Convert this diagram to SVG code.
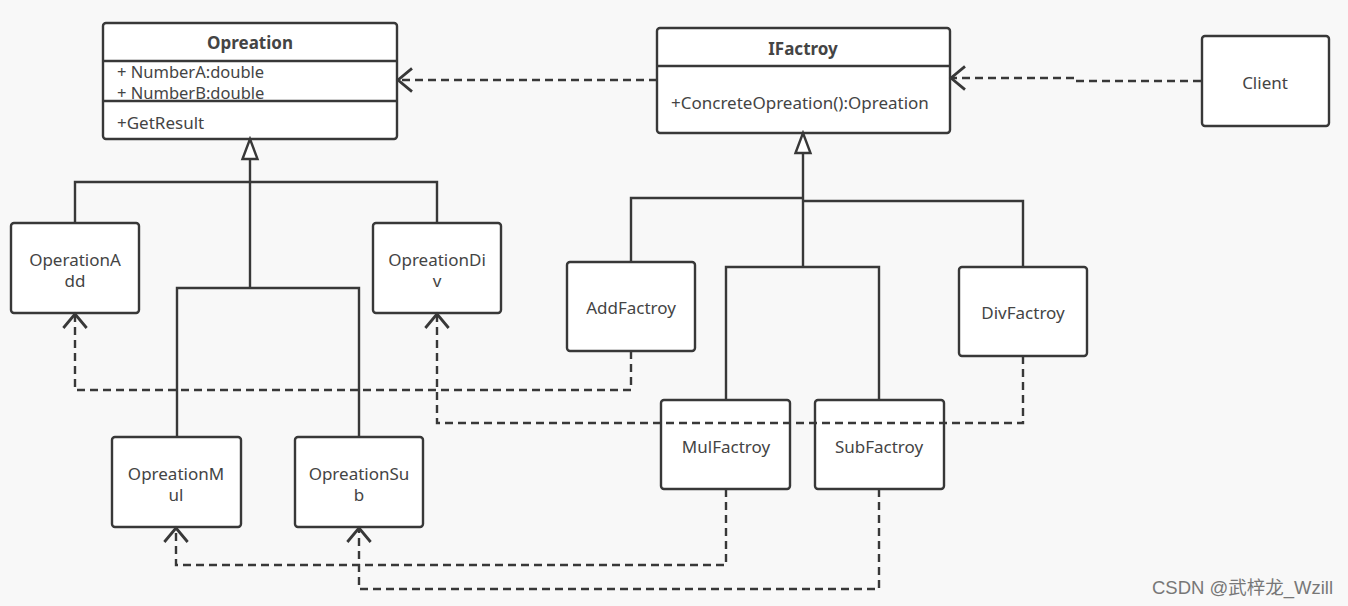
<svg xmlns="http://www.w3.org/2000/svg" width="1348" height="606" viewBox="0 0 1348 606">
<style>
.box{fill:#fff;stroke:#383838;stroke-width:2.4}
.sep{stroke:#383838;stroke-width:2.4;fill:none}
.t{font-family:"Noto Sans","Open Sans",sans-serif;font-size:17px;fill:#444;text-anchor:middle}
.tl{font-family:"Noto Sans","Open Sans",sans-serif;font-size:17px;fill:#444}
.attr{font-size:16.5px}
.b{font-weight:bold}
.solid{fill:none;stroke:#383838;stroke-width:2.4}
.dash{fill:none;stroke:#383838;stroke-width:2.4;stroke-dasharray:8 5}
.wm{font-family:"Liberation Sans","Noto Sans CJK SC",sans-serif;font-size:18px;fill:#777}
</style>
<defs>
<marker id="open" markerUnits="userSpaceOnUse" markerWidth="20" markerHeight="28" viewBox="-14 -12 16 24" refX="0" refY="0" orient="auto">
<path d="M-12,-10 L0,0 L-12,10" fill="none" stroke="#383838" stroke-width="2.4"/>
</marker>
<marker id="tri" markerUnits="userSpaceOnUse" markerWidth="26" markerHeight="22" viewBox="-23 -10 26 20" refX="0" refY="0" orient="auto">
<path d="M-20,-7.5 L0,0 L-20,7.5 Z" fill="#fff" stroke="#383838" stroke-width="2.4"/>
</marker>
</defs>
<rect width="1348" height="606" fill="#f8f8f8"/>

<g id="Opreation">
<rect class="box" x="103" y="23" width="294" height="116" rx="3"/>
<line class="sep" x1="103" y1="61" x2="397" y2="61"/>
<line class="sep" x1="103" y1="101" x2="397" y2="101"/>
<text class="t b" x="250" y="49">Opreation</text>
<text class="tl attr" x="117" y="78">+ NumberA:double</text>
<text class="tl attr" x="117" y="99">+ NumberB:double</text>
<text class="tl" x="117" y="129">+GetResult</text>
</g>

<g id="IFactroy">
<rect class="box" x="657" y="28" width="293" height="105" rx="3"/>
<line class="sep" x1="657" y1="66" x2="950" y2="66"/>
<text class="t b" x="803" y="55">IFactroy</text>
<text class="tl" x="671" y="109">+ConcreteOpreation():Opreation</text>
</g>

<g id="Client">
<rect class="box" x="1202" y="36" width="127" height="90" rx="3"/>
<text class="t" x="1265" y="89">Client</text>
</g>

<g id="OperationAdd">
<rect class="box" x="11" y="223" width="128" height="90" rx="3"/>
<text class="t" x="75" y="266">OperationA</text>
<text class="t" x="75" y="287">dd</text>
</g>

<g id="OpreationDiv">
<rect class="box" x="373" y="223" width="128" height="90" rx="3"/>
<text class="t" x="437" y="266">OpreationDi</text>
<text class="t" x="437" y="287">v</text>
</g>

<g id="OpreationMul">
<rect class="box" x="112" y="437" width="129" height="90" rx="3"/>
<text class="t" x="176" y="480">OpreationM</text>
<text class="t" x="176" y="501">ul</text>
</g>

<g id="OpreationSub">
<rect class="box" x="295" y="437" width="128" height="90" rx="3"/>
<text class="t" x="359" y="480">OpreationSu</text>
<text class="t" x="359" y="501">b</text>
</g>

<g id="AddFactroy">
<rect class="box" x="567" y="262" width="128" height="89" rx="3"/>
<text class="t" x="631" y="314">AddFactroy</text>
</g>

<g id="DivFactroy">
<rect class="box" x="959" y="267" width="128" height="89" rx="3"/>
<text class="t" x="1023" y="319">DivFactroy</text>
</g>

<g id="MulFactroy">
<rect class="box" x="661" y="400" width="129" height="89" rx="3"/>
<text class="t" x="726" y="453">MulFactroy</text>
</g>

<g id="SubFactroy">
<rect class="box" x="815" y="400" width="129" height="89" rx="3"/>
<text class="t" x="879" y="453">SubFactroy</text>
</g>

<g id="connectors">
<path class="solid" d="M250,288 V139" marker-end="url(#tri)"/>
<path class="solid" d="M75,223 V182 H437 V223"/>
<path class="solid" d="M177,437 V288 H359 V437"/>
<path class="solid" d="M803,267 V133" marker-end="url(#tri)"/>
<path class="solid" d="M631,262 V198 H803"/>
<path class="solid" d="M803,201 H1023 V267"/>
<path class="solid" d="M726,400 V267 H879 V400"/>
<path class="dash" d="M657,80 H398" marker-end="url(#open)"/>
<path class="dash" d="M1201,81 H1075 V78 H951" marker-end="url(#open)"/>
<path class="dash" d="M631,351 V390 H75 V314" marker-end="url(#open)"/>
<path class="dash" d="M1023,356 V423 H437 V314" marker-end="url(#open)"/>
<path class="dash" d="M726,489 V565 H176 V528" marker-end="url(#open)"/>
<path class="dash" d="M879,489 V589 H359 V528" marker-end="url(#open)"/>
</g>

<text class="wm" x="1152" y="594" textLength="181" lengthAdjust="spacingAndGlyphs">CSDN @武梓龙_Wzill</text>
</svg>
